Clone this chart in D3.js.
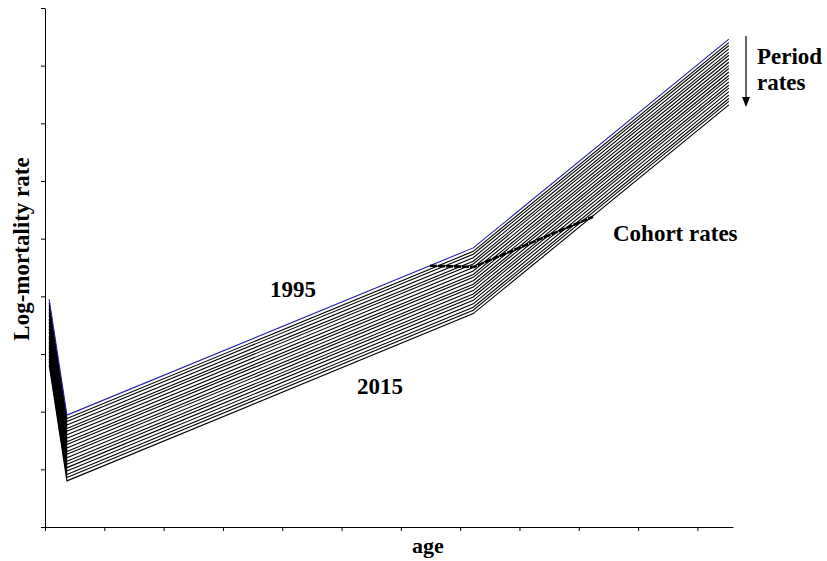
<!DOCTYPE html>
<html>
<head>
<meta charset="utf-8">
<script src="https://cdn.jsdelivr.net/npm/d3@7"></script>
<style>
  body { margin: 0; background: #fff; }
  text { font-family: "Liberation Serif", "Times New Roman", serif; font-weight: bold; }
</style>
</head>
<body>
<div id="chart"></div>
<script>
// ages at which each period curve is given
const ages = [0.7, 3.7, 72.2, 115.3];
const years = d3.range(1995, 2016);
// log-mortality by year (rows) and age (columns)
const logRates = [
  [3.95, 1.94, 4.84, 8.46],
  [3.89, 1.88, 4.78, 8.40],
  [3.84, 1.83, 4.73, 8.35],
  [3.78, 1.77, 4.67, 8.29],
  [3.72, 1.71, 4.61, 8.23],
  [3.67, 1.66, 4.56, 8.18],
  [3.61, 1.60, 4.50, 8.12],
  [3.55, 1.54, 4.44, 8.06],
  [3.49, 1.48, 4.38, 8.00],
  [3.44, 1.43, 4.33, 7.95],
  [3.38, 1.37, 4.27, 7.89],
  [3.32, 1.31, 4.21, 7.83],
  [3.27, 1.26, 4.16, 7.78],
  [3.21, 1.20, 4.10, 7.72],
  [3.15, 1.14, 4.04, 7.66],
  [3.10, 1.09, 3.99, 7.61],
  [3.04, 1.03, 3.93, 7.55],
  [2.98, 0.97, 3.87, 7.49],
  [2.92, 0.91, 3.81, 7.43],
  [2.87, 0.86, 3.76, 7.38],
  [2.81, 0.80, 3.70, 7.32]
];
const cohortAges = [64.9, 72.3, 92.4];
const cohortRates = [4.53, 4.51, 5.38];
const xTicks = d3.range(0, 111, 10);
const yTicks = d3.range(0, 10);

const width = 827, height = 561;

const svg = d3.select("#chart")
  .append("svg")
  .attr("width", width)
  .attr("height", height);

const x = d3.scaleLinear()
  .domain([0, 116])
  .range([45, 733]);

const y = d3.scaleLinear()
  .domain([0, 9])
  .range([527, 8]);

svg.append("g")
  .attr("transform", "translate(0, 527)")
  .call(d3.axisBottom(x).tickValues(xTicks).tickFormat("").tickSize(4).tickSizeOuter(0))
  .call(g => g.selectAll("path, line").attr("stroke", "#000"));

svg.append("g")
  .attr("transform", "translate(45, 0)")
  .call(d3.axisLeft(y).tickValues(yTicks).tickFormat("").tickSize(4).tickSizeOuter(0))
  .call(g => g.selectAll("path, line").attr("stroke", "#000"));

const line = d3.line()
  .x((d, i) => x(ages[i]))
  .y(d => y(d));

// period curves, 1995 drawn last in blue
svg.append("g")
  .selectAll("path")
  .data(logRates.slice().reverse())
  .enter()
  .append("path")
    .attr("d", d => line(d))
    .attr("fill", "none")
    .attr("stroke", (d, i) => i === logRates.length - 1 ? "#2424a8" : "#000")
    .attr("stroke-width", 1.1);

// cohort rates
svg.append("path")
  .attr("d", d3.line()
    .x((d, i) => x(cohortAges[i]))
    .y(d => y(d))(cohortRates))
  .attr("fill", "none")
  .attr("stroke", "#000")
  .attr("stroke-width", 2.6)
  .attr("stroke-dasharray", "7,1");

// labels
svg.append("text")
  .attr("text-anchor", "middle")
  .attr("transform", "translate(29, 249) rotate(-90)")
  .attr("font-size", 23)
  .text("Log-mortality rate");

svg.append("text")
  .attr("text-anchor", "middle")
  .attr("x", 428)
  .attr("y", 553)
  .attr("font-size", 22)
  .text("age");

svg.append("text")
  .attr("text-anchor", "middle")
  .attr("x", 293)
  .attr("y", 297)
  .attr("font-size", 23)
  .text(years[0]);

svg.append("text")
  .attr("text-anchor", "middle")
  .attr("x", 380)
  .attr("y", 394)
  .attr("font-size", 23)
  .text(years[years.length - 1]);

svg.append("text")
  .attr("x", 613)
  .attr("y", 241)
  .attr("font-size", 23)
  .text("Cohort rates");

svg.append("text")
  .attr("x", 757)
  .attr("y", 64)
  .attr("font-size", 23)
  .text("Period");

svg.append("text")
  .attr("x", 757)
  .attr("y", 90)
  .attr("font-size", 23)
  .text("rates");

// arrow
svg.append("line")
  .attr("x1", 746).attr("y1", 36)
  .attr("x2", 746).attr("y2", 99)
  .attr("stroke", "#000")
  .attr("stroke-width", 1.2);
svg.append("path")
  .attr("d", "M742,97 L750,97 L746,107 Z")
  .attr("fill", "#000");
</script>
</body>
</html>
